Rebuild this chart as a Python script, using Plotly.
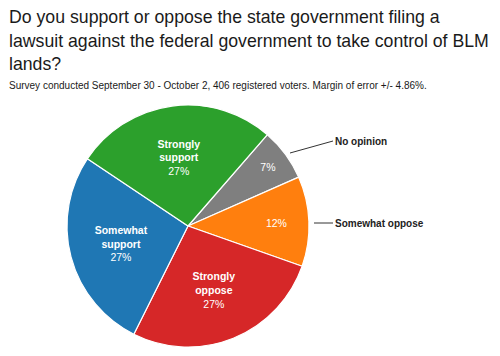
import plotly.graph_objects as go

W, H = 500, 356

labels = ["No opinion", "Somewhat oppose", "Strongly oppose", "Somewhat support", "Strongly support"]
values = [7, 12, 27, 27, 27]
colors = ["#7f7f7f", "#ff7f0e", "#d62728", "#1f77b4", "#2ca02c"]
inside_names = ["", "", "Strongly<br>oppose", "Somewhat<br>support", "Strongly<br>support"]
outside_labels = ["No opinion", "Somewhat oppose"]

title_lines = ["Do you support or oppose the state government filing a",
               "lawsuit against the federal government to take control of BLM",
               "lands?"]
subtitle_text = "Survey conducted September 30 - October 2, 406 registered voters. Margin of error +/- 4.86%."

FONT = "Liberation Sans, Arial, Helvetica, sans-serif"

texts = []
for n, v in zip(inside_names, values):
    if n:
        texts.append(f"<b>{n}</b><br>{v}%")
    else:
        texts.append(f"{v}%")

cx, cy, r = 188, 226, 121

fig = go.Figure(go.Pie(
    labels=labels,
    values=values,
    text=texts,
    textinfo="text",
    textposition="inside",
    insidetextorientation="horizontal",
    insidetextfont=dict(color="white", size=10.5, family=FONT),
    marker=dict(colors=colors, line=dict(color="white", width=1.2)),
    sort=False,
    direction="clockwise",
    rotation=41,
    hole=0,
    showlegend=False,
    hoverinfo="none",
    domain=dict(x=[(cx - r) / W, (cx + r) / W], y=[1 - (cy + r) / H, 1 - (cy - r) / H]),
))

def px(x):
    return x / W

def py(y):
    return 1 - y / H

annotations = []
for i, (line, top) in enumerate(zip(title_lines, [5, 29, 52])):
    annotations.append(dict(text=line, x=px(7), y=py(top), xref="paper", yref="paper",
                            xanchor="left", yanchor="top", align="left", showarrow=False,
                            font=dict(family=FONT, size=17.7, color="#1a1a1a")))
annotations += [
    dict(text=subtitle_text, x=px(7), y=py(78), xref="paper", yref="paper",
         xanchor="left", yanchor="top", align="left", showarrow=False,
         font=dict(family=FONT, size=10, color="#1a1a1a")),
    dict(text=f"<b>{outside_labels[0]}</b>", x=px(290), y=py(153), xref="paper", yref="paper",
         ax=43, ay=-12, xanchor="left", showarrow=True, arrowhead=0, arrowwidth=1,
         arrowcolor="#333", font=dict(family=FONT, size=10, color="#222")),
    dict(text=f"<b>{outside_labels[1]}</b>", x=px(314), y=py(223), xref="paper", yref="paper",
         ax=19, ay=0, xanchor="left", showarrow=True, arrowhead=0, arrowwidth=1,
         arrowcolor="#333", font=dict(family=FONT, size=10, color="#222")),
]

fig.update_layout(
    width=W, height=H,
    margin=dict(l=0, r=0, t=0, b=0),
    paper_bgcolor="white", plot_bgcolor="white",
    annotations=annotations,
    font=dict(family=FONT),
)

fig.write_html("out.html", config={"displayModeBar": False},
               post_script="document.body.style.margin='0';document.body.style.overflow='hidden';")
